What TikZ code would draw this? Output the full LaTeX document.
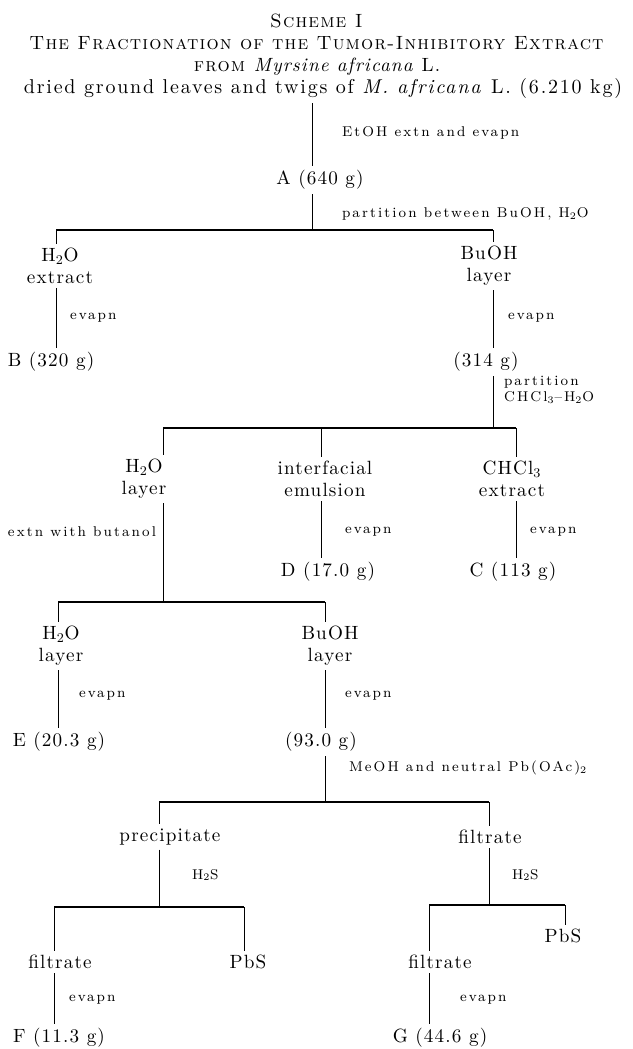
\documentclass[tikz,border=0pt]{standalone}
\usepackage{fontspec}
\usepackage{tikz}
\usetikzlibrary{calc,positioning}
\newfontfamily\schemefont{lmroman10-regular}[Extension=.otf, Ligatures=TeX,
    ItalicFont=lmroman10-italic, SmallCapsFont=lmromancaps10-regular, LetterSpace=6]
\newfontfamily\notefont{lmroman8-regular}[Extension=.otf, Ligatures=TeX, LetterSpace=15]
\tikzset{
        item/.style = {inner sep=2.5pt, align=center,
            font=\schemefont\fontsize{11.5}{13.2}\selectfont},
        note/.style = {inner sep=1pt, anchor=west, align=left,
            font=\notefont\fontsize{8.5}{9.8}\selectfont},
        link/.style = {draw, line width=0.55pt},
        bar/.style = {draw, line width=1.1pt},
    }

\begin{document}
\begin{tikzpicture}[x=0.6pt,y=-0.6pt]
        \useasboundingbox (0,0) rectangle (632,1049);

        % heading
        \node[item] (title) at (317,45)
            {\textsc{Scheme I}\\
             \textsc{The Fractionation of the Tumor-Inhibitory Extract}\\
             \textsc{from} \textit{Myrsine africana} L.};
        \node[item, font=\schemefont\fontsize{12}{13.2}\selectfont\addfontfeatures{LetterSpace=9}] (src) at (323,89)
            {dried ground leaves and twigs of \textit{M. africana} L. (6.210 kg)};

        % first partition
        \node[item] (nA) at (320,180) {A (640 g)};
        \node[item] (h2oext) at (60,266) {H$_2$O\\extract};
        \node[item] (buoh1) at (489,266) {BuOH\\layer};
        \node[item] (nB) at (51,362) {B (320 g)};
        \node[item] (n314) at (486,362) {(314 g)};

        % CHCl3 partition
        \node[item] (h2o2) at (144,479) {H$_2$O\\layer};
        \node[item] (emul) at (325,479) {interfacial\\emulsion};
        \node[item] (chcl) at (512,479) {CHCl$_3$\\extract};
        \node[item] (nD) at (328,572) {D (17.0 g)};
        \node[item] (nC) at (513,572) {C (113 g)};

        % butanol extraction
        \node[item] (h2o3) at (61,646) {H$_2$O\\layer};
        \node[item] (buoh3) at (330,646) {BuOH\\layer};
        \node[item] (nE) at (59,742) {E (20.3 g)};
        \node[item] (n93) at (321,742) {(93.0 g)};

        % lead acetate
        \node[item] (prec) at (170,837) {precipitate};
        \node[item] (filt1) at (490,837) {filtrate};
        \node[item] (filt2) at (60,962) {filtrate};
        \node[item] (pbs1) at (248,962) {PbS};
        \node[item] (filt3) at (440,962) {filtrate};
        \node[item] (pbs2) at (563,936) {PbS};
        \node[item] (nF) at (59,1038) {F (11.3 g)};
        \node[item] (nG) at (440,1038) {G (44.6 g)};

        % labels on the lines
        \node[note] (etoh) at (340,133) {EtOH extn and evapn};
        \node[note] (part1) at (340,214) {partition between BuOH, H$_2$O};
        \node[note] (ev1) at (68,318) {evapn};
        \node[note] (ev2) at (506,318) {evapn};
        \node[note] (part2) at (502,390) {partition\\CHCl$_3$–H$_2$O};
        \node[note, anchor=east] (butanol) at (158,532) {extn with butanol};
        \node[note] (ev3) at (343,532) {evapn};
        \node[note] (ev4) at (528,532) {evapn};
        \node[note] (ev5) at (77,696) {evapn};
        \node[note] (ev6) at (343,696) {evapn};
        \node[note] (meoh) at (347,768) {MeOH and neutral Pb(OAc)$_2$};
        \node[note] (h2s1) at (190,875) {H$_2$S};
        \node[note] (h2s2) at (510,875) {H$_2$S};
        \node[note] (ev7) at (67,1000) {evapn};
        \node[note] (ev8) at (458,1000) {evapn};

        % bar ends
        \coordinate (j1) at (312,230);
        \coordinate (j1l) at (56,230);
        \coordinate (j1r) at (493,230);
        \coordinate (j2) at (493,428);
        \coordinate (j2l) at (163,428);
        \coordinate (j2m) at (321,428);
        \coordinate (j2r) at (516,428);
        \coordinate (j3) at (163,602);
        \coordinate (j3l) at (58,602);
        \coordinate (j3r) at (325,602);
        \coordinate (j4) at (325,802);
        \coordinate (j4l) at (159,802);
        \coordinate (j4r) at (489,802);
        \coordinate (j5) at (159,907);
        \coordinate (j5l) at (54,907);
        \coordinate (j5r) at (244,907);
        \coordinate (j6) at (489,905);
        \coordinate (j6l) at (429,905);
        \coordinate (j6r) at (565,905);

        \draw[link] (src.south -| j1) -- (nA.north -| j1);
        \draw[link] (nA.south -| j1) -- (j1);
        \draw[bar] (j1l) -- (j1r);
        \draw[link] (j1l) -- (j1l |- h2oext.north);
        \draw[link] (j1r) -- (j1r |- buoh1.north);
        \draw[link] (h2oext.south -| j1l) -- (nB.north -| j1l);
        \draw[link] (buoh1.south -| j1r) -- (n314.north -| j1r);

        \draw[link] (n314.south -| j2) -- (j2);
        \draw[bar] (j2l) -- (j2r);
        \draw[link] (j2l) -- (j2l |- h2o2.north);
        \draw[link] (j2m) -- (j2m |- emul.north);
        \draw[link] (j2r) -- (j2r |- chcl.north);
        \draw[link] (emul.south -| j2m) -- (nD.north -| j2m);
        \draw[link] (chcl.south -| j2r) -- (nC.north -| j2r);

        \draw[link] (h2o2.south -| j3) -- (j3);
        \draw[bar] (j3l) -- (j3r);
        \draw[link] (j3l) -- (j3l |- h2o3.north);
        \draw[link] (j3r) -- (j3r |- buoh3.north);
        \draw[link] (h2o3.south -| j3l) -- (nE.north -| j3l);
        \draw[link] (buoh3.south -| j3r) -- (n93.north -| j3r);

        \draw[link] (n93.south -| j4) -- (j4);
        \draw[bar] (j4l) -- (j4r);
        \draw[link] (j4l) -- (j4l |- prec.north);
        \draw[link] (j4r) -- (j4r |- filt1.north);

        \draw[link] (prec.south -| j5) -- (j5);
        \draw[bar] (j5l) -- (j5r);
        \draw[link] (j5l) -- (j5l |- filt2.north);
        \draw[link] (j5r) -- (j5r |- pbs1.north);
        \draw[link] (filt2.south -| j5l) -- (nF.north -| j5l);

        \draw[link] (filt1.south -| j6) -- (j6);
        \draw[bar] (j6l) -- (j6r);
        \draw[link] (j6l) -- (j6l |- filt3.north);
        \draw[link] (j6r) -- (j6r |- pbs2.north);
        \draw[link] (filt3.south -| j6l) -- (nG.north -| j6l);
    \end{tikzpicture}
\end{document}
